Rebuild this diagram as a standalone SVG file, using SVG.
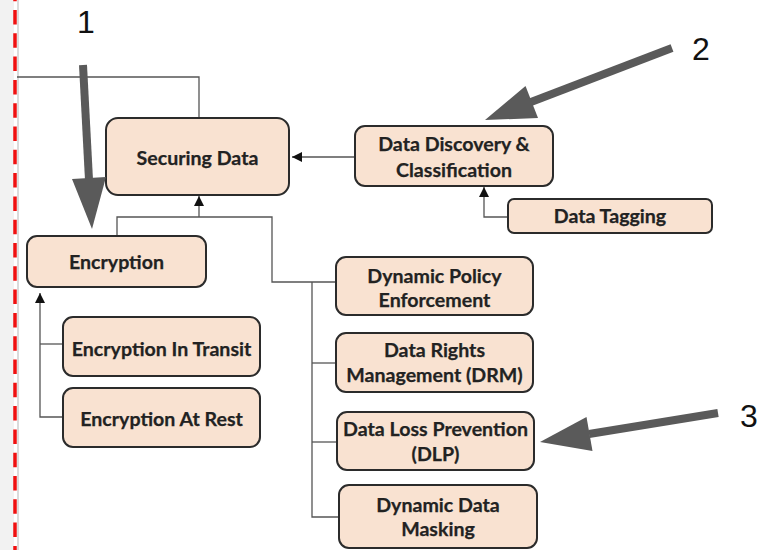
<svg xmlns="http://www.w3.org/2000/svg" width="763" height="550" viewBox="0 0 763 550">
  <defs>
    <style>
      .box { fill: #f9e2d1; stroke: #2b2b2b; stroke-width: 2; }
      .lbl { font-family: Lato, "Open Sans", sans-serif; font-weight: bold; font-size: 19.6px; fill: #222; stroke: #222; stroke-width: 0.25; text-anchor: middle; }
      .num { font-family: "Liberation Sans", Arial, sans-serif; font-size: 32px; fill: #111; text-anchor: middle; }
      .wire { fill: none; stroke: #555; stroke-width: 1.3; }
      .callout { stroke: #5a5a5a; stroke-width: 8; fill: none; }
      .callhead { fill: #5a5a5a; }
    </style>
    <marker id="tip" viewBox="0 0 10 10" refX="10" refY="5" markerWidth="10" markerHeight="10" markerUnits="userSpaceOnUse" orient="auto">
      <path d="M0,0 L10,5 L0,10 Z" fill="#111"/>
    </marker>
  </defs>

  <rect width="763" height="550" fill="#ffffff"/>
  <!-- page margin strip with dashed guide -->
  <rect x="0" y="0" width="14" height="550" fill="#f2f2f2"/>
  <line x1="18" y1="0" x2="18" y2="550" stroke="#cfcfcf" stroke-width="1.5"/>
  <line x1="15" y1="0" x2="15" y2="550" stroke="#f01010" stroke-width="3.5" stroke-dasharray="14.5 8.8" stroke-dashoffset="-10"/>

  <g id="connectors">
    <path class="wire" d="M17,77 H199 V118"/>
    <path class="wire" d="M355,157 H292" marker-end="url(#tip)"/>
    <path class="wire" d="M508,217 H484 V187" marker-end="url(#tip)"/>
    <path class="wire" d="M117,236 V217 H272 V282 H336"/>
    <path class="wire" d="M199,217 V196" marker-end="url(#tip)"/>
    <path class="wire" d="M312,282 V517 H339"/>
    <path class="wire" d="M312,363 H336"/>
    <path class="wire" d="M312,442 H337"/>
    <path class="wire" d="M63,417 H40 V293" marker-end="url(#tip)"/>
    <path class="wire" d="M63,344 H40"/>
  </g>

  <g id="securing-data">
    <rect class="box" x="106" y="118" width="183" height="77" rx="12"/>
    <text class="lbl" x="197.5" y="165">Securing Data</text>
  </g>
  <g id="data-discovery">
    <rect class="box" x="355" y="126" width="198" height="60" rx="10"/>
    <text class="lbl" x="454" y="151">Data Discovery &amp;</text>
    <text class="lbl" x="454" y="177">Classification</text>
  </g>
  <g id="data-tagging">
    <rect class="box" x="508" y="199" width="204" height="34" rx="6"/>
    <text class="lbl" x="610" y="223">Data Tagging</text>
  </g>
  <g id="encryption">
    <rect class="box" x="27" y="236" width="179" height="51" rx="10"/>
    <text class="lbl" x="116.5" y="269">Encryption</text>
  </g>
  <g id="encryption-in-transit">
    <rect class="box" x="63" y="317" width="197" height="59" rx="10"/>
    <text class="lbl" x="161.5" y="356">Encryption In Transit</text>
  </g>
  <g id="encryption-at-rest">
    <rect class="box" x="63" y="388" width="197" height="59" rx="10"/>
    <text class="lbl" x="161.5" y="426">Encryption At Rest</text>
  </g>
  <g id="dynamic-policy">
    <rect class="box" x="336" y="257" width="197" height="58" rx="10"/>
    <text class="lbl" x="434.5" y="283">Dynamic Policy</text>
    <text class="lbl" x="434.5" y="307">Enforcement</text>
  </g>
  <g id="drm">
    <rect class="box" x="336" y="333" width="197" height="59" rx="10"/>
    <text class="lbl" x="434.5" y="357">Data Rights</text>
    <text class="lbl" x="434.5" y="382">Management (DRM)</text>
  </g>
  <g id="dlp">
    <rect class="box" x="337" y="412" width="197" height="58" rx="10"/>
    <text class="lbl" x="435.5" y="436">Data Loss Prevention</text>
    <text class="lbl" x="435.5" y="461">(DLP)</text>
  </g>
  <g id="masking">
    <rect class="box" x="339" y="485" width="198" height="63" rx="10"/>
    <text class="lbl" x="438" y="512">Dynamic Data</text>
    <text class="lbl" x="438" y="536">Masking</text>
  </g>

  <!-- numbered callouts -->
  <g id="callout-1">
    <line class="callout" x1="83" y1="65" x2="89" y2="180"/>
    <polygon class="callhead" points="72,179 106,177 92,229"/>
    <text class="num" x="86" y="33">1</text>
  </g>
  <g id="callout-2">
    <line class="callout" x1="672" y1="48" x2="531" y2="102"/>
    <polygon class="callhead" points="525.5,86 538,118 485,120"/>
    <text class="num" x="701" y="60">2</text>
  </g>
  <g id="callout-3">
    <line class="callout" x1="718" y1="413" x2="589" y2="434"/>
    <polygon class="callhead" points="586.5,417 592.5,451 540,442"/>
    <text class="num" x="749" y="427">3</text>
  </g>
</svg>
